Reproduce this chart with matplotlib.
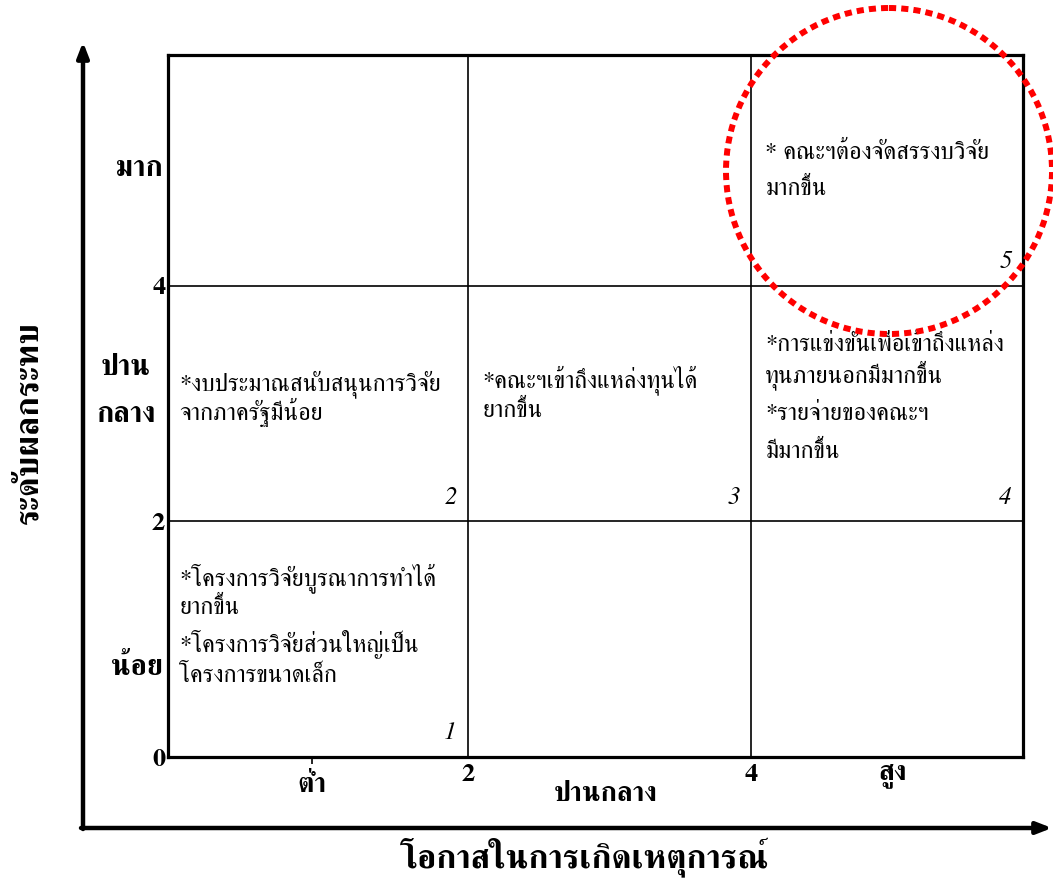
import matplotlib
matplotlib.use("Agg")
import matplotlib.pyplot as plt
from matplotlib.patches import Circle

plt.rcParams['font.family'] = ['FreeSerif', 'DejaVu Sans']

# grid boundaries (likelihood x impact)
x_bounds = [2, 4]
y_bounds = [2, 4]
x_ticks = [2, 4]
y_ticks = [0, 2, 4]

x_levels = ["ต่ำ", "ปานกลาง", "สูง"]
y_levels = ["น้อย", "ปาน\nกลาง", "มาก"]

# cell numbers and their text (cell = (col, row))
cell_ids = [1, 2, 3, 4, 5]
cell_pos = [(0, 0), (0, 1), (1, 1), (2, 1), (2, 2)]
cell_lines = [
    ["*โครงการวิจัยบูรณาการทำได้", "ยากขึ้น", "*โครงการวิจัยส่วนใหญ่เป็น", "โครงการขนาดเล็ก"],
    ["*งบประมาณสนับสนุนการวิจัย", "จากภาครัฐมีน้อย"],
    ["*คณะฯเข้าถึงแหล่งทุนได้", "ยากขึ้น"],
    ["*การแข่งขันเพื่อเข้าถึงแหล่ง", "ทุนภายนอกมีมากขึ้น", "*รายจ่ายของคณะฯ", "มีมากขึ้น"],
    ["* คณะฯต้องจัดสรรงบวิจัย", "มากขึ้น"],
]
# vertical offsets (from first line) of each line, in axis units
line_offsets = [
    [0, -0.25, -0.57, -0.82],
    [0, -0.25],
    [0, -0.25],
    [0, -0.27, -0.59, -0.91],
    [0, -0.31],
]
first_line_y = [1.46, 3.11, 3.14, 3.45, 5.08]

W, H = 1053, 890
fig = plt.figure(figsize=(W / 100, H / 100), dpi=100)

L, R, T, B = 168, 1023, 55, 757
ax = fig.add_axes([L / W, 1 - B / H, (R - L) / W, (B - T) / H])
ax.set_xlim(-0.12, 5.92)
ax.set_ylim(0, 5.96)
xmin, xmax = ax.get_xlim()
ymin, ymax = ax.get_ylim()

for s in ax.spines.values():
    s.set_linewidth(2.3)
for xv in x_bounds:
    ax.axvline(xv, color='black', lw=1.2)
for yv in y_bounds:
    ax.axhline(yv, color='black', lw=1.2)

ax.set_xticks(x_ticks)
ax.set_xticklabels([str(v) for v in x_ticks], fontsize=19, fontweight='bold')
ax.set_yticks(y_ticks)
ax.set_yticklabels([str(v) for v in y_ticks], fontsize=19, fontweight='bold')
ax.tick_params(axis='both', length=0, pad=2)
ax.tick_params(axis='x', pad=5)
ax.set_xticks([0.9], minor=True)
ax.tick_params(axis='x', which='minor', length=5, width=1.2)

# level labels
x_edges = [xmin] + x_bounds + [xmax]
y_edges = [ymin] + y_bounds + [ymax]
x_lab_y = [-0.24, -0.32, -0.16]
x_lab_x = [0.9, 2.97, 5.0]
for lab, xx, yy in zip(x_levels, x_lab_x, x_lab_y):
    ax.text(xx, yy, lab, ha='center', va='center', fontsize=20, fontweight='bold', clip_on=False)
y_lab_y = [0.76, 3.10, 4.99]
y_lab_x = [xmin - 0.035, xmin - 0.30, xmin - 0.035]
y_lab_ha = ['right', 'center', 'right']
for lab, xx, yy, ha in zip(y_levels, y_lab_x, y_lab_y, y_lab_ha):
    ax.text(xx, yy, lab, ha=ha, va='center', fontsize=21, fontweight='bold',
            linespacing=2.05, clip_on=False)

# cell texts and numbers
for cid, (c, r), lines, offs, y0 in zip(cell_ids, cell_pos, cell_lines, line_offsets, first_line_y):
    x0 = x_edges[c] + (0.1 if c > 0 else 0.08)
    for ln, off in zip(lines, offs):
        ax.text(x0, y0 + off, ln, ha='left', va='baseline', fontsize=17.5)
    ax.text(x_edges[c + 1] - 0.08, y_edges[r] + 0.15, str(cid), ha='right', va='baseline',
            fontsize=18, style='italic')

# overlay in pixel coordinates for the axis arrows and the highlight circle
ov = fig.add_axes([0, 0, 1, 1], zorder=5)
ov.set_xlim(0, W)
ov.set_ylim(H, 0)
ov.patch.set_alpha(0)
ov.axis('off')

ov.annotate('', xy=(83, 42), xytext=(83, 829),
            arrowprops=dict(arrowstyle='-|>,head_length=0.9,head_width=0.35', lw=3.2, color='black',
                            shrinkA=0, shrinkB=0))
ov.annotate('', xy=(1052, 828), xytext=(81, 828),
            arrowprops=dict(arrowstyle='-|>,head_length=0.9,head_width=0.35', lw=3.2, color='black',
                            shrinkA=0, shrinkB=0))

circ = Circle((889, 171), 163, fill=False, edgecolor='#ff0000', lw=4.3,
              linestyle=(0, (1.2, 0.85)))
ov.add_patch(circ)

ov.text(585, 858, "โอกาสในการเกิดเหตุการณ์", ha='center', va='center', fontsize=24.5, fontweight='bold')
ov.text(30, 423, "ระดับผลกระทบ", ha='center', va='center', fontsize=24, fontweight='bold',
        rotation=90)

fig.savefig("out.png", dpi=100)
